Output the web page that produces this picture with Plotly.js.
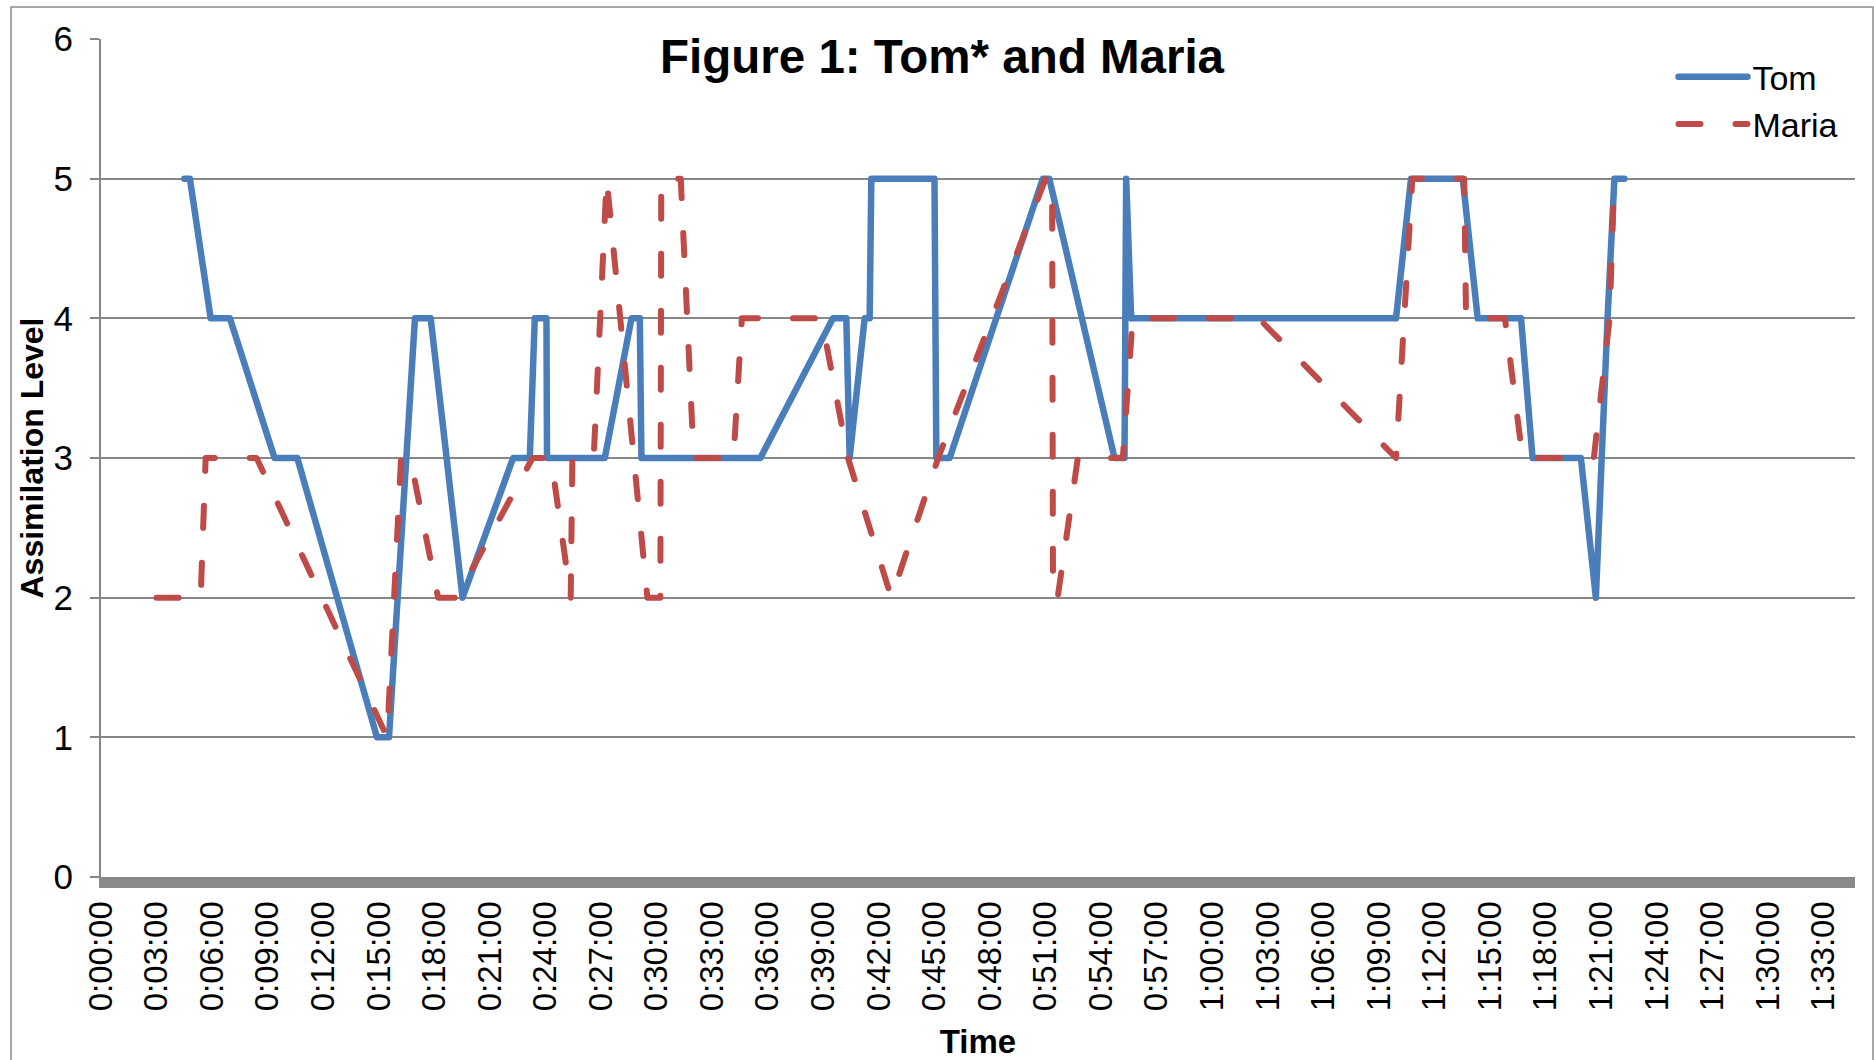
<!DOCTYPE html>
<html>
<head>
<meta charset="utf-8">
<script src="https://cdn.plot.ly/plotly-3.0.1.min.js"></script>
<style>
  html, body { margin: 0; padding: 0; background: #fff; }
  #chart { width: 1874px; height: 1060px; }
  .scatterlayer path.js-line, .legendlines path.js-line {
    stroke-linecap: round !important; stroke-linejoin: round !important;
  }
</style>
</head>
<body>
<div id="chart"></div>
<script>
// Time in minutes from start
const tomTime = [4.5, 4.8, 5.92, 6.96, 9.37, 10.6, 14.9, 15.55, 16.95, 17.8,
  19.52, 22.25, 23.15, 23.42, 24.05, 24.08, 27.2, 28.64, 29.09, 29.18,
  35.6, 39.52, 40.24, 40.42, 41.23, 41.5, 41.59, 45.0, 45.1, 45.82,
  50.85, 51.2, 54.72, 55.26, 55.35, 55.62, 69.92, 70.73, 73.52, 74.33,
  76.67, 77.29, 79.9, 80.71, 81.34, 81.71, 82.25];
const tomLevel = [5, 5, 4, 4, 3, 3, 1, 1, 4, 4,
  2, 3, 3, 4, 4, 3, 3, 4, 4, 3,
  3, 4, 4, 3, 4, 4, 5, 5, 3, 3,
  5, 5, 3, 3, 5, 4, 4, 5, 5, 4,
  4, 3, 3, 2, 4, 5, 5];

const mariaTime = [3.0, 5.38, 5.65, 8.4, 15.45, 16.2, 16.7, 18.2, 19.2, 23.3,
  24.3, 25.36, 25.45, 26.6, 27.3, 29.5, 30.2, 30.25, 31.3, 32.0,
  34.15, 34.6, 38.9, 40.33, 42.67, 45.2, 51.0, 51.35, 51.4, 51.65,
  52.74, 53.1, 55.17, 55.7, 62.5, 69.92, 70.8, 73.6, 73.7, 75.8,
  76.75, 80.6, 81.45, 81.7];
const mariaLevel = [2, 2, 3, 3, 1, 3, 3, 2, 2, 3,
  3, 2, 3, 3, 5, 2, 2, 5, 5, 3,
  3, 4, 4, 3, 2, 3, 5, 5, 2, 2,
  3, 3, 3, 4, 4, 3, 5, 5, 4, 4,
  3, 3, 4, 5];

const xTickValues = [0, 3, 6, 9, 12, 15, 18, 21, 24, 27, 30, 33, 36, 39, 42, 45,
  48, 51, 54, 57, 60, 63, 66, 69, 72, 75, 78, 81, 84, 87, 90, 93];
const xTickLabels = ["0:00:00", "0:03:00", "0:06:00", "0:09:00", "0:12:00", "0:15:00",
  "0:18:00", "0:21:00", "0:24:00", "0:27:00", "0:30:00", "0:33:00", "0:36:00",
  "0:39:00", "0:42:00", "0:45:00", "0:48:00", "0:51:00", "0:54:00", "0:57:00",
  "1:00:00", "1:03:00", "1:06:00", "1:09:00", "1:12:00", "1:15:00", "1:18:00",
  "1:21:00", "1:24:00", "1:27:00", "1:30:00", "1:33:00"];
const yTickValues = [0, 1, 2, 3, 4, 5, 6];

const FONT = "Liberation Sans, Arial, Helvetica, sans-serif";
const GRID = "#878787";

const traces = [
  {
    x: tomTime, y: tomLevel, name: "Tom", type: "scatter", mode: "lines",
    line: { color: "#4A7EBB", width: 6.5 }
  },
  {
    x: mariaTime, y: mariaLevel, name: "Maria", type: "scatter", mode: "lines",
    line: { color: "#BE4B48", width: 6, dash: "22px,35px" }
  }
];

const layout = {
  width: 1874, height: 1060,
  margin: { l: 101, r: 19, t: 39, b: 183, pad: 0 },
  paper_bgcolor: "#ffffff", plot_bgcolor: "#ffffff",
  font: { family: FONT, color: "#000000", size: 32 },
  title: {
    text: "<b>Figure 1: Tom* and Maria</b>",
    font: { family: FONT, size: 47.5, color: "#000000" },
    x: 0.5027, xanchor: "center", y: 0.9472, yanchor: "middle"
  },
  showlegend: true,
  legend: {
    x: 0.8965, xanchor: "left", y: 0.989, yanchor: "top",
    bgcolor: "rgba(0,0,0,0)", borderwidth: 0,
    font: { family: FONT, size: 34, color: "#000000" },
    itemwidth: 69
  },
  xaxis: {
    range: [0, 94.7],
    tickvals: xTickValues, ticktext: xTickLabels,
    tickangle: -90,
    tickfont: { family: FONT, size: 33, color: "#000000" },
    showgrid: false, zeroline: false,
    showline: true, linecolor: "#898989", linewidth: 11,
    ticks: "",
    title: { text: "<b>Time</b>", font: { family: FONT, size: 33, color: "#000000" }, standoff: 28 }
  },
  yaxis: {
    range: [0, 6],
    tickvals: yTickValues,
    tickfont: { family: FONT, size: 35, color: "#000000" },
    ticklabelstandoff: 10,
    showgrid: true, gridcolor: GRID, gridwidth: 2,
    zeroline: false,
    showline: true, linecolor: GRID, linewidth: 2,
    ticks: "outside", ticklen: 9, tickcolor: GRID, tickwidth: 2,
    title: { text: "<b>Assimilation Level</b>", font: { family: FONT, size: 32, color: "#000000" }, standoff: 0 }
  },
  shapes: [
    {
      type: "rect", xref: "paper", yref: "paper",
      x0: (11 - 101) / 1754, x1: (1873 - 101) / 1754,
      y0: -0.25, y1: (877 - 7) / 838,
      line: { color: "#8c8c8c", width: 1.5 }, fillcolor: "rgba(0,0,0,0)", layer: "below"
    }
  ]
};

Plotly.newPlot("chart", traces, layout, { displayModeBar: false, responsive: false });
</script>
</body>
</html>
